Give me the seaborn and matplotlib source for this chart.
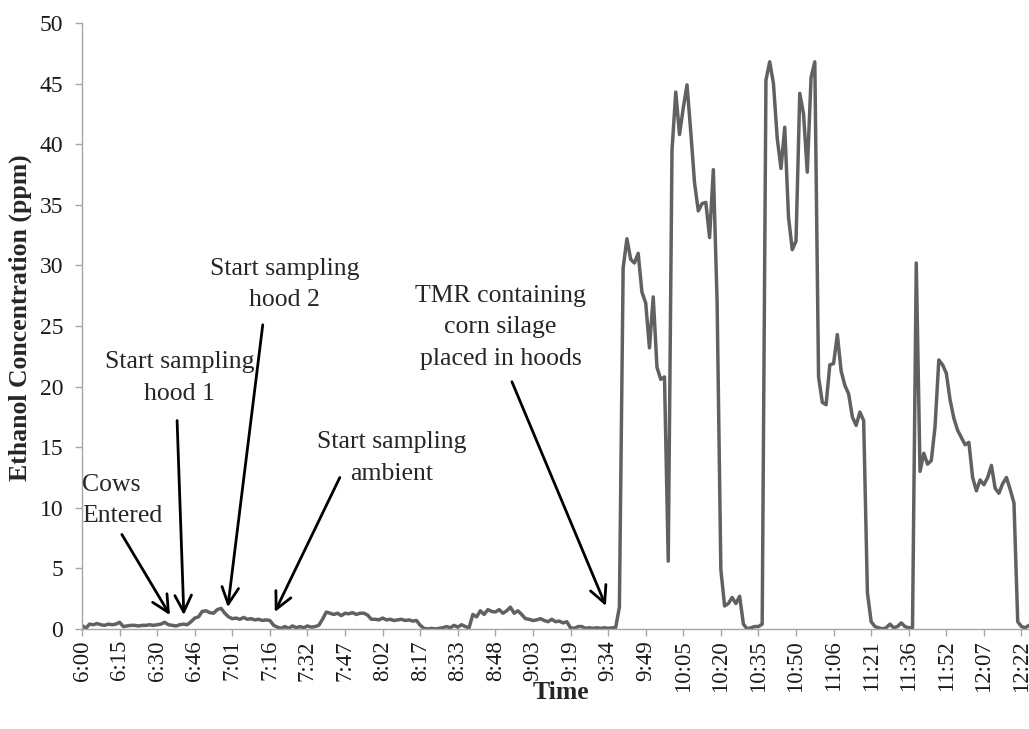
import numpy as np
import pandas as pd
import seaborn as sns
import matplotlib.pyplot as plt

# ethanol readings, one per sample (tick label every 10 samples)
ethanol_ppm = [
    0.3, 0.05, 0.4, 0.35, 0.45, 0.35, 0.3, 0.4, 0.35, 0.4, 0.55, 0.2,
    0.25, 0.3, 0.3, 0.25, 0.3, 0.3, 0.35, 0.3, 0.35, 0.4,
    0.55, 0.35, 0.3, 0.25, 0.35, 0.4, 0.35, 0.6, 0.9, 1.0,
    1.45, 1.5, 1.35, 1.3, 1.6, 1.7, 1.3, 1.0, 0.85, 0.9,
    0.8, 0.95, 0.8, 0.85, 0.75, 0.8, 0.7, 0.75, 0.7, 0.3,
    0.15, 0.05, 0.2, 0.05, 0.25, 0.1, 0.2, 0.1, 0.25, 0.15,
    0.2, 0.3, 0.8, 1.4, 1.3, 1.2, 1.3, 1.1, 1.3, 1.25,
    1.35, 1.2, 1.3, 1.3, 1.15, 0.8, 0.8, 0.75, 0.9, 0.75,
    0.8, 0.7, 0.75, 0.8, 0.7, 0.75, 0.65, 0.7, 0.3, 0.05,
    0.0, 0.05, 0.0, 0.05, 0.1, 0.2, 0.1, 0.3, 0.15, 0.35,
    0.2, 0.1, 1.2, 1.0, 1.5, 1.2, 1.6, 1.45, 1.4, 1.6,
    1.3, 1.5, 1.8, 1.3, 1.5, 1.2, 0.85, 0.8, 0.7, 0.75,
    0.85, 0.7, 0.6, 0.8, 0.6, 0.65, 0.5, 0.6, 0.1, 0.05,
    0.2, 0.2, 0.05, 0.1, 0.05, 0.1, 0.05, 0.1, 0.05, 0.1,
    0.1, 1.8, 29.8, 32.2, 30.5, 30.2, 31.0, 27.8, 26.9, 23.2,
    27.4, 21.6, 20.6, 20.8, 5.6, 39.5, 44.3, 40.8, 43.0, 44.9,
    41.0, 36.8, 34.5, 35.1, 35.2, 32.3, 37.9, 27.0, 4.9, 1.9,
    2.1, 2.6, 2.1, 2.7, 0.4, 0.0, 0.1, 0.2, 0.2, 0.4,
    45.3, 46.8, 45.0, 40.5, 38.0, 41.4, 34.0, 31.3, 32.0, 44.2,
    42.5, 37.7, 45.5, 46.8, 20.8, 18.7, 18.5, 21.8, 21.9, 24.3,
    21.3, 20.1, 19.4, 17.5, 16.8, 17.9, 17.2, 3.0, 0.6, 0.2,
    0.1, 0.0, 0.1, 0.4, 0.1, 0.2, 0.5, 0.2, 0.1, 0.1,
    30.2, 13.0, 14.5, 13.6, 13.9, 16.7, 22.2, 21.8, 21.1, 18.9,
    17.4, 16.4, 15.8, 15.2, 15.4, 12.5, 11.4, 12.3, 11.9, 12.5,
    13.5, 11.6, 11.2, 12.0, 12.5, 11.5, 10.4, 0.6, 0.2, 0.1, 0.3,
]
time_labels = ['6:00', '6:15', '6:30', '6:46', '7:01', '7:16', '7:32', '7:47',
               '8:02', '8:17', '8:33', '8:48', '9:03', '9:19', '9:34', '9:49',
               '10:05', '10:20', '10:35', '10:50', '11:06', '11:21', '11:36',
               '11:52', '12:07', '12:22']
samples_per_tick = 10

# annotation text, (text x, text y), arrow start, arrow tip  -- sample index / ppm
notes = [
    ("Cows\nEntered", (0.0, 10.6), (10.6, 7.8), (23.4, 1.15)),
    ("Start sampling\nhood 1", (26.0, 20.7), (25.3, 17.2), (27.1, 1.15)),
    ("Start sampling\nhood 2", (54.0, 28.4), (48.1, 25.1), (38.8, 1.8)),
    ("Start sampling\nambient", (82.4, 14.1), (68.6, 12.5), (51.3, 1.4)),
    ("TMR containing\ncorn silage\nplaced in hoods", (111.4, 24.9), (114.4, 20.4), (139.4, 1.9)),
]

df = pd.DataFrame({'sample': np.arange(len(ethanol_ppm)), 'ppm': ethanol_ppm})

sns.set_style("white")
plt.rcParams['font.family'] = ['Liberation Serif', 'DejaVu Serif']

fig = plt.figure(figsize=(10.29, 7.29), dpi=100)
ax = fig.add_axes([0.0797, 0.1372, 0.9203, 0.8312])

sns.lineplot(data=df, x='sample', y='ppm', ax=ax, color='#616161', linewidth=2.5)

ax.set_xlim(0, 252)
ax.set_ylim(0, 50)
ax.set_yticks(np.arange(0, 51, 5))
ax.set_xticks(np.arange(len(time_labels)) * samples_per_tick)
ax.set_xticklabels(time_labels, rotation=90)
ax.tick_params(axis='both', colors='#a6a6a6', labelcolor='#1a1a1a',
               length=5, width=1, direction='out')
ax.tick_params(axis='x', pad=3, labelsize=16.5)
ax.tick_params(axis='y', pad=8.5, labelsize=17)
ax.xaxis.set_ticks_position('bottom')
ax.yaxis.set_ticks_position('left')

for s in ['top', 'right']:
    ax.spines[s].set_visible(False)
for s in ['left', 'bottom']:
    ax.spines[s].set_color('#a6a6a6')
    ax.spines[s].set_linewidth(1)

ax.set_xlabel('Time', fontsize=18.5, fontweight='bold')
ax.set_ylabel('Ethanol Concentration (ppm)', fontsize=18.5, fontweight='bold')
ax.xaxis.set_label_coords(0.506, -0.086)
ax.yaxis.set_label_coords(-0.053, 0.513)

for txt, pos, start, tip in notes:
    ha = 'left' if txt.startswith('Cows') else 'center'
    ax.text(pos[0], pos[1], txt, fontsize=18.5, ha=ha, va='center',
            multialignment='center' if ha == 'center' else 'left', linespacing=1.55)
    ax.annotate('', xy=tip, xytext=start,
                arrowprops=dict(arrowstyle='->, head_length=0.6, head_width=0.3',
                                color='black', lw=2, mutation_scale=20,
                                shrinkA=0, shrinkB=0))

fig.savefig('out.png', dpi=100)
